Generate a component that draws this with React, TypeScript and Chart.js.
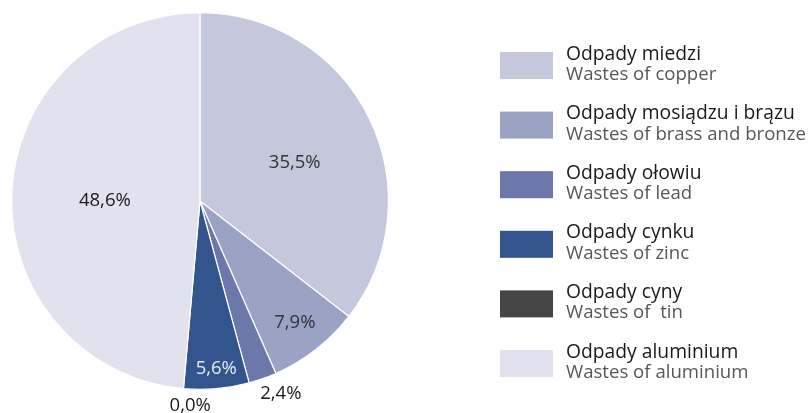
import React, { useEffect, useRef } from "react";
import { Chart, registerables } from "chart.js";

Chart.register(...registerables);

const categoriesPL = [
  "Odpady miedzi",
  "Odpady mosiądzu i brązu",
  "Odpady ołowiu",
  "Odpady cynku",
  "Odpady cyny",
  "Odpady aluminium",
];
const categoriesEN = [
  "Wastes of copper",
  "Wastes of brass and bronze",
  "Wastes of lead",
  "Wastes of zinc",
  "Wastes of  tin",
  "Wastes of aluminium",
];
const shares = [35.5, 7.9, 2.4, 5.6, 0.0, 48.6];

const colors = ["#c5c7dc", "#9ba3c5", "#6b78a9", "#33548c", "#454545", "#e2e2ee"];
const labelColors = ["#333333", "#333333", "#1a1a1a", "#e8eaf2", "#1a1a1a", "#1a1a1a"];
// [radius fraction, angle adjustment in degrees]
const labelPlacement: [number, number][] = [
  [0.542, 4.2],
  [0.818, 0],
  [1.11, -3.3],
  [0.894, -0.5],
  [1.086, -2.3],
  [0.505, -2.2],
];

const FONT = '"Open Sans", "Noto Sans", sans-serif';

const labelPlugin = {
  id: "sliceLabels",
  afterDatasetsDraw(chart: any) {
    const ctx = chart.ctx;
    const meta = chart.getDatasetMeta(0);
    ctx.save();
    ctx.font = `18.5px ${FONT}`;
    ctx.textAlign = "center";
    ctx.textBaseline = "middle";
    meta.data.forEach((arc: any, i: number) => {
      const p = arc.getProps(["x", "y", "startAngle", "endAngle", "outerRadius"], true);
      const [frac, adj] = labelPlacement[i];
      const mid = (p.startAngle + p.endAngle) / 2 + (adj * Math.PI) / 180;
      const r = p.outerRadius * frac;
      const x = p.x + Math.cos(mid) * r;
      const y = p.y + Math.sin(mid) * r;
      ctx.fillStyle = labelColors[i];
      ctx.fillText(shares[i].toFixed(1).replace(".", ",") + "%", x, y);
    });
    ctx.restore();
  },
};

const legendPlugin = {
  id: "twoLineLegend",
  afterDraw(chart: any) {
    const ctx = chart.ctx;
    ctx.save();
    const step = 59.6;
    categoriesPL.forEach((pl, i) => {
      const top = 52 + i * step;
      ctx.fillStyle = colors[i];
      ctx.fillRect(500, top, 53, 27);
      ctx.textAlign = "left";
      ctx.textBaseline = "alphabetic";
      ctx.font = `19.3px ${FONT}`;
      ctx.fillStyle = "#1a1a1a";
      ctx.fillText(pl, 566, top + 7.5);
      ctx.font = `18.6px ${FONT}`;
      ctx.fillStyle = "#575757";
      ctx.fillText(categoriesEN[i], 566, top + 28);
    });
    ctx.restore();
  },
};

export default function App() {
  const ref = useRef<HTMLCanvasElement>(null);
  useEffect(() => {
    if (!ref.current) return;
    const chart = new Chart(ref.current, {
      type: "pie",
      data: {
        labels: categoriesPL,
        datasets: [
          {
            data: shares,
            backgroundColor: colors,
            borderColor: "#ffffff",
            borderWidth: 1.2,
          },
        ],
      },
      options: {
        animation: false,
        responsive: false,
        layout: { padding: { left: 11, top: 12, bottom: 23, right: 421 } },
        plugins: {
          legend: { display: false },
          tooltip: { enabled: false },
        },
      },
      plugins: [labelPlugin, legendPlugin],
    });
    return () => chart.destroy();
  }, []);
  return (
    <div style={{ position: "absolute", left: 0, top: 0, width: 810, height: 413, background: "#fff" }}>
      <canvas ref={ref} width={810} height={413} />
    </div>
  );
}
